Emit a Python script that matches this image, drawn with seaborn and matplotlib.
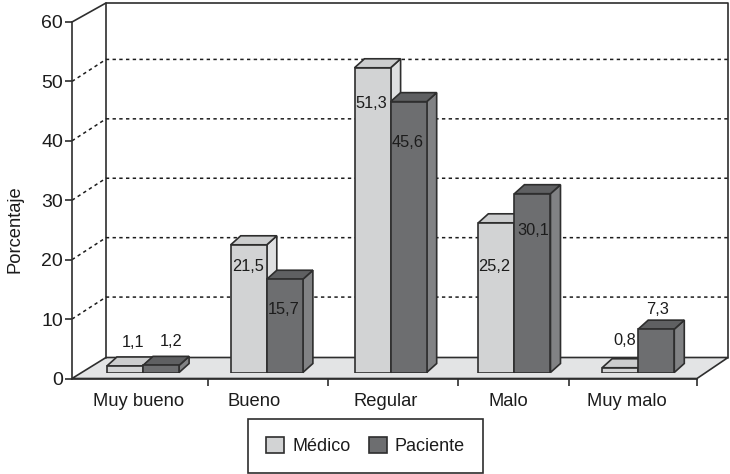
import numpy as np
import pandas as pd
import matplotlib
matplotlib.use("Agg")
import matplotlib.pyplot as plt
import seaborn as sns
from matplotlib.patches import Polygon
from matplotlib.transforms import ScaledTranslation

categorias = ["Muy bueno", "Bueno", "Regular", "Malo", "Muy malo"]
medico = [1.1, 21.5, 51.3, 25.2, 0.8]
paciente = [1.2, 15.7, 45.6, 30.1, 7.3]
etiquetas_medico = ["1,1", "21,5", "51,3", "25,2", "0,8"]
etiquetas_paciente = ["1,2", "15,7", "45,6", "30,1", "7,3"]
ticks_y = [0, 10, 20, 30, 40, 50, 60]
ticks_x = [208, 328, 458, 569, 697]

# desplazamiento de las etiquetas respecto a la cima de cada barra (pixeles)
offset_medico = [(8, 23), (-1, -22), (-1, -36), (-2, -44), (5, 27)]
offset_paciente = [(10, 24), (-1, -30), (-1, -41), (1, -37), (1, 20)]
offset_cat = [-4, -13, -5, -6, -11]

W, H = 730, 474
GRIS_CLARO, GRIS_OSCURO, BORDE = "#d2d3d4", "#6d6e70", "#2e2e2e"
TEXTO = "#1c1c1c"

sns.set_theme(style="white")
plt.rcParams["font.family"] = ["Liberation Sans", "DejaVu Sans"]

df = pd.DataFrame({
    "categoria": categorias * 2,
    "valor": medico + paciente,
    "grupo": ["Médico"] * 5 + ["Paciente"] * 5,
})

fig = plt.figure(figsize=(W / 100, H / 100), dpi=100)


def caja(x0, x1, y_top, y_bot):
    return [x0 / W, 1 - y_bot / H, (x1 - x0) / W, (y_bot - y_top) / H]


# ejes del marco: plano frontal con el eje de porcentaje
marco = fig.add_axes(caja(72, 697, 22, 378.5))
marco.set_ylim(0, 60)
marco.set_xlim(72, 697)
marco.patch.set_alpha(0)
sns.despine(ax=marco, top=True, right=True)
for s in ["left", "bottom"]:
    marco.spines[s].set_color(BORDE)
    marco.spines[s].set_linewidth(1.2)
marco.set_yticks(ticks_y)
marco.set_xticks(ticks_x)
marco.set_xticklabels([])
marco.tick_params(axis="y", length=5, width=1.2, color=BORDE, labelsize=14, labelcolor=TEXTO, pad=1.4, left=True)
marco.tick_params(axis="x", length=5, width=1.2, color=BORDE, bottom=True)
marco.set_ylabel("Porcentaje", fontsize=13.2, color=TEXTO)
marco.yaxis.set_label_coords(-0.078, 0.42)

# paredes y suelo, proyectados con un desfase en pixeles
pix_y = 60 / 356.5
x_atras0, x_atras1 = 106, 728
y_suelo, y_techo = 21 * pix_y, 60 + 19 * pix_y
marco.add_patch(Polygon([(72, 0), (697, 0), (x_atras1, y_suelo), (x_atras0, y_suelo)], closed=True,
                        facecolor="#e3e4e5", edgecolor=BORDE, lw=1.2, clip_on=False, zorder=1))
marco.plot([x_atras0, x_atras0, x_atras1, x_atras1], [y_suelo, y_techo, y_techo, y_suelo],
           color=BORDE, lw=1.2, clip_on=False, zorder=1)
marco.plot([72, x_atras0], [60, y_techo], color=BORDE, lw=1.2, clip_on=False, zorder=1)
for v in ticks_y[1:-1]:
    marco.plot([72, x_atras0, x_atras1], [v, v + 22 * pix_y, v + 22 * pix_y], color=TEXTO, lw=1.1,
               ls=(0, (2.2, 2.2)), clip_on=False, zorder=1)

# ejes de las barras, desplazados sobre el suelo
ax = fig.add_axes(caja(81.1, 700.1, 16.1, 372.5))
ax.patch.set_alpha(0)
sns.barplot(data=df, x="categoria", y="valor", hue="grupo", order=categorias,
            palette=[GRIS_CLARO, GRIS_OSCURO], width=0.583, gap=0, saturation=1,
            edgecolor=BORDE, linewidth=1.2, ax=ax)
ax.set_xlim(-0.5, 4.5)
ax.set_ylim(0, 60)
ax.set_xlabel("")
ax.set_ylabel("")
ax.set_yticks([])
sns.despine(ax=ax, left=True, bottom=True)
ax.tick_params(axis="x", length=0, labelsize=13.2, labelcolor=TEXTO, pad=15)
for lab, off in zip(ax.get_xticklabels(), offset_cat):
    lab.set_transform(lab.get_transform() + ScaledTranslation(off / 100, 0, fig.dpi_scale_trans))

# caras lateral y superior de cada barra
px, py = 1 / 123.8, 60 / 356.4
prof_x, prof_y = 10 * px, 9 * py
caras = {GRIS_CLARO: ("#dfe0e1", "#cccdce"), GRIS_OSCURO: ("#818284", "#5f6062")}
colores = [GRIS_CLARO] * 5 + [GRIS_OSCURO] * 5
barras = list(ax.patches)[:10]
textos = etiquetas_medico + etiquetas_paciente
offsets = offset_medico + offset_paciente
for i, barra in enumerate(barras):
    x0, w, h = barra.get_x(), barra.get_width(), barra.get_height()
    x1 = x0 + w
    lateral, superior = caras[colores[i]]
    z = 2 + (i % 5) * 0.1 + (i // 5) * 0.03
    ax.add_patch(Polygon([(x1, 0), (x1 + prof_x, prof_y), (x1 + prof_x, h + prof_y), (x1, h)], closed=True,
                         facecolor=lateral, edgecolor=BORDE, lw=1.2, clip_on=False, zorder=z))
    ax.add_patch(Polygon([(x0, h), (x0 + prof_x, h + prof_y), (x1 + prof_x, h + prof_y), (x1, h)], closed=True,
                         facecolor=superior, edgecolor=BORDE, lw=1.2, clip_on=False, zorder=z + 0.001))
    barra.set_zorder(z + 0.002)
    ax.annotate(textos[i], (x0 + w / 2, h), xytext=offsets[i], textcoords="offset pixels",
                ha="center", va="center", fontsize=11.8, color=TEXTO, zorder=5)

sns.move_legend(ax, "lower left", bbox_to_anchor=(248 / W, 1 - 473 / H), bbox_transform=fig.transFigure,
                ncol=2, title=None, frameon=True, fancybox=False, fontsize=13, edgecolor=BORDE,
                handlelength=1.0, handleheight=1.0, columnspacing=1.0, handletextpad=0.45,
                borderpad=1.0, borderaxespad=0, framealpha=1)
ax.get_legend().get_frame().set_linewidth(1.2)
for t in ax.get_legend().get_texts():
    t.set_color(TEXTO)

fig.savefig("out.png", dpi=100)
